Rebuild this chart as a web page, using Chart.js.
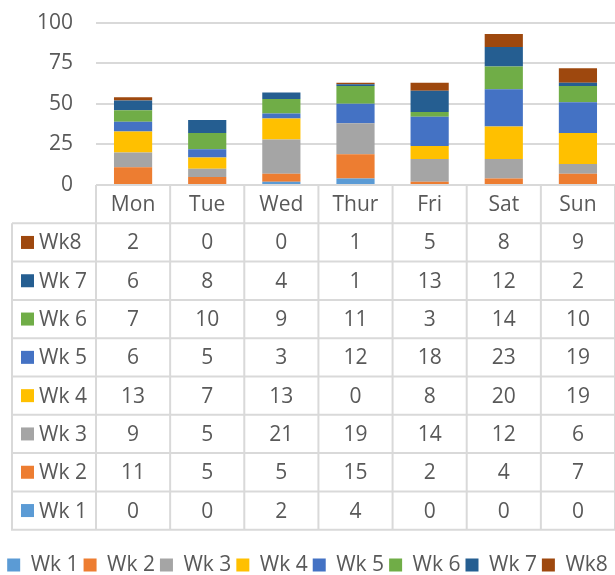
<!DOCTYPE html>
<html>
<head>
<meta charset="utf-8">
<script src="https://cdn.jsdelivr.net/npm/chart.js@4/dist/chart.umd.min.js"></script>
<style>
  html, body { margin: 0; padding: 0; background: #fff; }
  #wrap { width: 615px; height: 575px; }
</style>
</head>
<body>
<div id="wrap"><canvas id="weekChart"></canvas></div>
<script>
const days = ['Mon', 'Tue', 'Wed', 'Thur', 'Fri', 'Sat', 'Sun'];
const seriesNames = ['Wk 1', 'Wk 2', 'Wk 3', 'Wk 4', 'Wk 5', 'Wk 6', 'Wk 7', 'Wk8'];
const wk1 = [0, 0, 2, 4, 0, 0, 0];
const wk2 = [11, 5, 5, 15, 2, 4, 7];
const wk3 = [9, 5, 21, 19, 14, 12, 6];
const wk4 = [13, 7, 13, 0, 8, 20, 19];
const wk5 = [6, 5, 3, 12, 18, 23, 19];
const wk6 = [7, 10, 9, 11, 3, 14, 10];
const wk7 = [6, 8, 4, 1, 13, 12, 2];
const wk8 = [2, 0, 0, 1, 5, 8, 9];
const yTicks = [0, 25, 50, 75, 100];

const colors = ['#5B9BD5', '#ED7D31', '#A5A5A5', '#FFC000', '#4472C4', '#70AD47', '#255E91', '#9E480E'];
const allSeries = [wk1, wk2, wk3, wk4, wk5, wk6, wk7, wk8];

const FONT = "'Open Sans', 'DejaVu Sans', sans-serif";
const TEXT = '#595959';
const LINE = '#d9d9d9';

// data table drawn under the plot area, columns follow the x scale
const dataTable = {
    id: 'dataTable',
    afterDraw(chart) {
        const ctx = chart.ctx;
        const area = chart.chartArea;
        const xs = chart.scales.x;
        const colW = (area.right - area.left) / days.length;
        const rowH = 38.3;
        const tableLeft = 12;
        const top = area.bottom;
        const bottom = top + rowH * (seriesNames.length + 1);

        ctx.save();
        ctx.strokeStyle = LINE;
        ctx.lineWidth = 2;
        ctx.beginPath();
        // horizontal lines
        for (let k = 1; k <= seriesNames.length + 1; k++) {
            const y = top + k * rowH;
            ctx.moveTo(tableLeft, y);
            ctx.lineTo(area.right + 2, y);
        }
        // vertical lines
        ctx.moveTo(tableLeft, top + rowH);
        ctx.lineTo(tableLeft, bottom + 1);
        for (let j = 0; j <= days.length; j++) {
            const x = area.left + j * colW;
            ctx.moveTo(x, top);
            ctx.lineTo(x, bottom + 1);
        }
        ctx.stroke();

        ctx.font = '21px ' + FONT;
        ctx.fillStyle = TEXT;
        ctx.textBaseline = 'middle';
        ctx.textAlign = 'center';
        days.forEach((d, i) => {
            ctx.fillText(d, xs.getPixelForValue(i), top + rowH / 2 + 1);
        });

        // rows: Wk8 on top down to Wk 1
        for (let r = 0; r < seriesNames.length; r++) {
            const s = seriesNames.length - 1 - r;
            const cy = top + (r + 1) * rowH + rowH / 2;
            ctx.fillStyle = colors[s];
            ctx.fillRect(21, cy - 6.5, 13, 13);
            ctx.fillStyle = TEXT;
            ctx.textAlign = 'left';
            ctx.fillText(seriesNames[s], 39, cy + 1);
            ctx.textAlign = 'center';
            allSeries[s].forEach((v, i) => {
                ctx.fillText(String(v), xs.getPixelForValue(i), cy + 1);
            });
        }
        ctx.restore();
    }
};

new Chart(document.getElementById('weekChart'), {
    type: 'bar',
    data: {
        labels: days,
        datasets: seriesNames.map((name, i) => ({
            label: name,
            data: allSeries[i],
            backgroundColor: colors[i],
            borderWidth: 0,
            barPercentage: 0.515,
            categoryPercentage: 1
        }))
    },
    options: {
        responsive: true,
        maintainAspectRatio: false,
        animation: false,
        layout: { padding: { top: 22.7, right: 0, bottom: -10.5, left: 0 } },
        scales: {
            x: {
                stacked: true,
                grid: { display: false },
                border: { display: false },
                ticks: { display: false },
                afterFit: s => { s.height = 364.5; }
            },
            y: {
                stacked: true,
                min: 0,
                max: 100,
                afterBuildTicks: s => { s.ticks = yTicks.map(v => ({ value: v })); },
                // invisible tick marks push the labels left without padding the top
                grid: { color: LINE, lineWidth: 2, drawTicks: true, tickLength: 20, tickColor: 'rgba(0,0,0,0)' },
                border: { display: false },
                ticks: { color: TEXT, padding: 3, font: { family: FONT, size: 21 } },
                afterFit: s => { s.width = 96; }
            }
        },
        plugins: {
            legend: {
                position: 'bottom',
                labels: {
                    color: TEXT,
                    boxWidth: 13,
                    boxHeight: 13,
                    padding: 5,
                    font: { family: FONT, size: 21 }
                }
            },
            tooltip: { enabled: false }
        }
    },
    plugins: [dataTable]
});
</script>
</body>
</html>
